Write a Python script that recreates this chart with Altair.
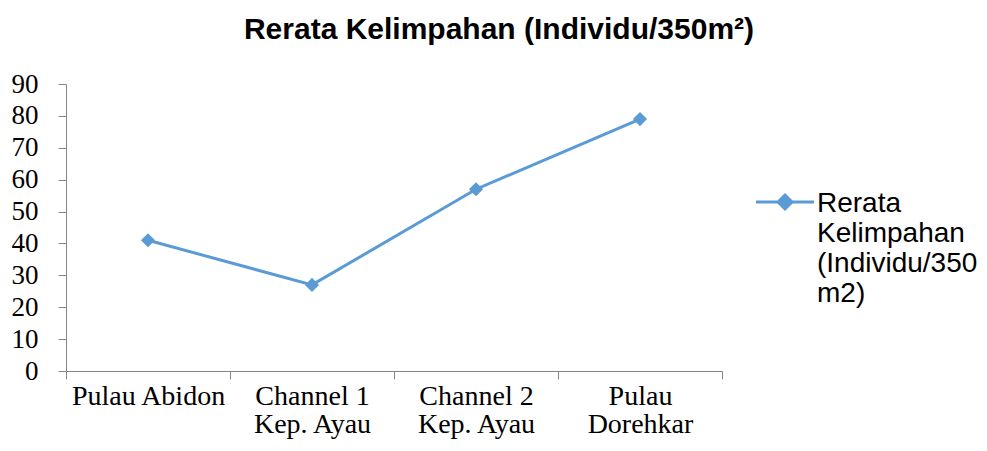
import altair as alt
import pandas as pd

# ---- data ----
categories = ["Pulau Abidon", "Channel 1\nKep. Ayau", "Channel 2\nKep. Ayau", "Pulau\nDorehkar"]
values = [41, 27, 57, 79]
series_name = "Rerata\nKelimpahan\n(Individu/350\nm2)"
y_ticks = [0, 10, 20, 30, 40, 50, 60, 70, 80, 90]
title_text = "Rerata Kelimpahan (Individu/350m\u00b2)"

df = pd.DataFrame({"kategori": categories, "nilai": values, "seri": [series_name] * len(categories)})

BLUE = "#5B9BD5"
AXIS_GRAY = "#868686"

# legend symbol: line with a diamond, shifted down so that it lines up with the first label line
legend_symbol = "M-2.9,1.2L2.9,1.2M0,0.5L0.7,1.2L0,1.9L-0.7,1.2Z"

base = alt.Chart(df).encode(
    x=alt.X(
        "kategori:N",
        sort=categories,
        scale=alt.Scale(type="band", paddingInner=0, paddingOuter=0),
        axis=alt.Axis(
            title=None,
            tickBand="extent",
            labelAngle=0,
            labelExpr="split(datum.label, '\\n')",
            labelFont="Liberation Serif",
            labelFontSize=28,
            labelColor="black",
            labelLineHeight=28,
            labelPadding=3,
            labelLimit=400,
            domainColor=AXIS_GRAY,
            tickColor=AXIS_GRAY,
            tickSize=8,
        ),
    ),
    y=alt.Y(
        "nilai:Q",
        scale=alt.Scale(domain=[0, 90], nice=False),
        axis=alt.Axis(
            title=None,
            values=y_ticks,
            grid=False,
            labelFont="Liberation Serif",
            labelFontSize=27,
            labelColor="black",
            labelPadding=20,
            domainColor=AXIS_GRAY,
            tickColor=AXIS_GRAY,
            tickSize=8,
        ),
    ),
    color=alt.Color(
        "seri:N",
        scale=alt.Scale(range=[BLUE]),
        legend=alt.Legend(
            title=None,
            orient="none",
            legendX=705,
            legendY=92,
            symbolType=legend_symbol,
            symbolSize=400,
            symbolStrokeWidth=3,
            symbolFillColor=BLUE,
            symbolStrokeColor=BLUE,
            labelFont="Liberation Sans",
            labelFontSize=28,
            labelColor="black",
            labelBaseline="top",
            labelOffset=18,
            labelLimit=400,
            labelExpr="split(datum.label, '\\n')",
        ),
    ),
)

line = base.mark_line(strokeWidth=3)
points = base.mark_point(shape="diamond", filled=True, size=200, opacity=1)

chart = (
    alt.layer(line, points)
    .properties(
        width=656,
        height=287,
        title=alt.TitleParams(
            text=title_text,
            font="Liberation Sans",
            fontSize=30,
            fontWeight="bold",
            color="black",
            anchor="middle",
            dx=105,
            offset=25,
        ),
        autosize=alt.AutoSizeParams(type="none"),
        padding={"left": 58, "top": 76, "right": 256, "bottom": 72},
    )
    .configure_view(stroke=None)
)

chart.save("out.html", embed_options={"renderer": "svg", "actions": False})
